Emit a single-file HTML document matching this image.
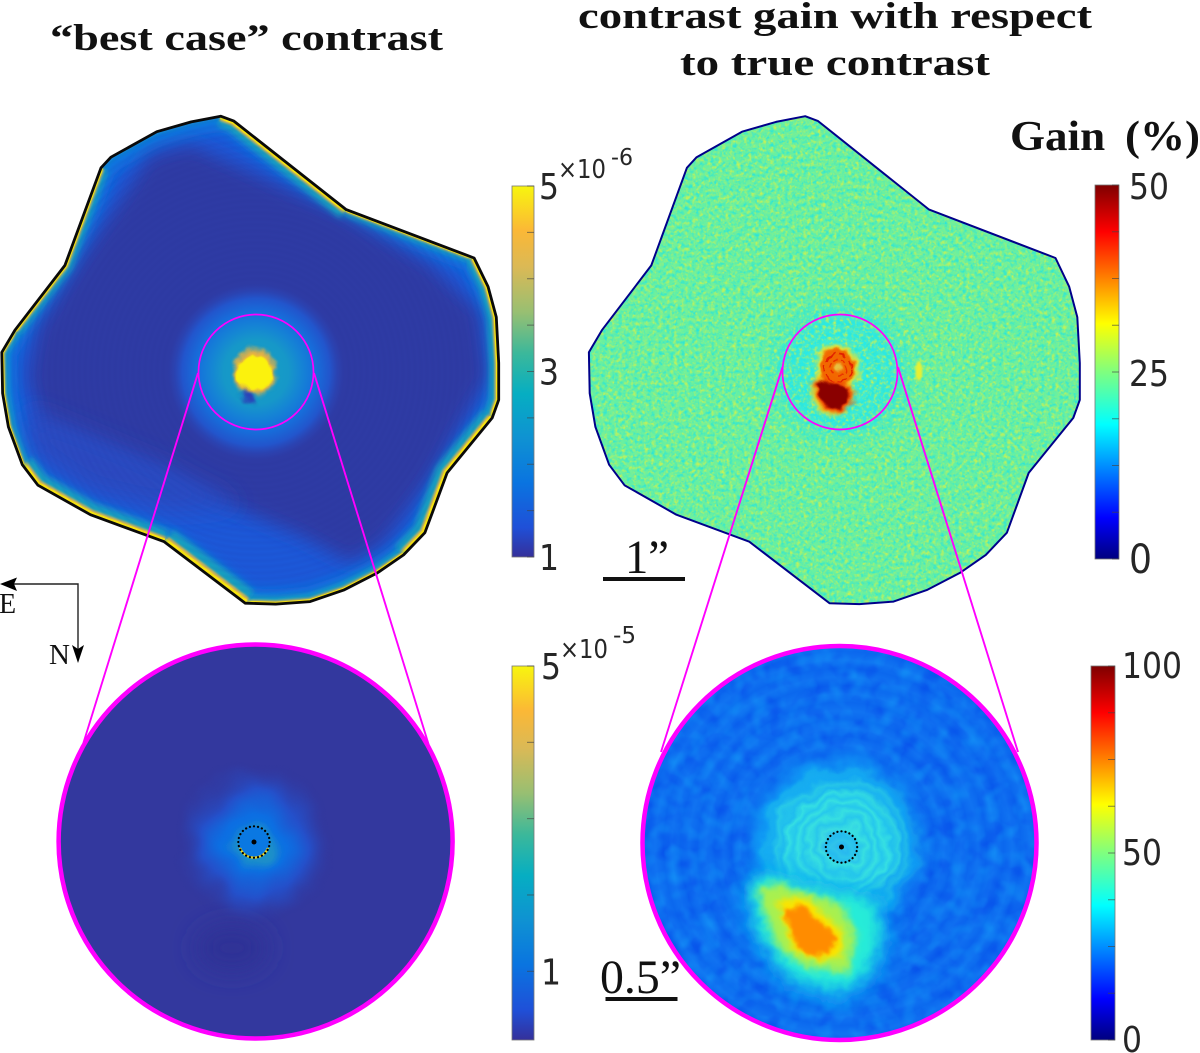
<!DOCTYPE html>
<html lang="en">
<head>
<meta charset="utf-8">
<title>Best case contrast and contrast gain maps</title>
<style>
html,body{margin:0;padding:0;background:#fff;}
svg{display:block;width:1200px;height:1053px;}
.title{font-family:"Liberation Serif",serif;font-weight:bold;fill:#111;}
.serif{font-family:"Liberation Serif",serif;fill:#111;}
.tick{font-family:"DejaVu Sans","Liberation Sans",sans-serif;fill:#262626;}
.exp{font-family:"DejaVu Sans","Liberation Sans",sans-serif;fill:#262626;}
</style>
</head>
<body>
<svg id="figure" xmlns="http://www.w3.org/2000/svg" viewBox="0 0 1200 1053" width="1200" height="1053">
<defs>
  <clipPath id="clip-left"><polygon class="field-left"/></clipPath>
  <clipPath id="clip-right"><polygon class="field-right"/></clipPath>
  <clipPath id="clip-bottom-right"><circle cx="839.5" cy="843" r="198"/></clipPath>
  <clipPath id="clip-bottom-left"><circle cx="255.6" cy="841.5" r="198"/></clipPath>
  <filter id="b1" x="-30%" y="-30%" width="160%" height="160%"><feGaussianBlur stdDeviation="1"/></filter>
  <filter id="b2" x="-30%" y="-30%" width="160%" height="160%"><feGaussianBlur stdDeviation="2"/></filter>
  <filter id="b3" x="-30%" y="-30%" width="160%" height="160%"><feGaussianBlur stdDeviation="3"/></filter>
  <filter id="b4" x="-30%" y="-30%" width="160%" height="160%"><feGaussianBlur stdDeviation="4"/></filter>
  <filter id="b6" x="-30%" y="-30%" width="160%" height="160%"><feGaussianBlur stdDeviation="6"/></filter>
  <filter id="b9" x="-60%" y="-60%" width="220%" height="220%"><feGaussianBlur stdDeviation="9"/></filter>
  <filter id="b12" x="-100%" y="-100%" width="300%" height="300%"><feGaussianBlur stdDeviation="12"/></filter>
  <filter id="rough-fine" x="-20%" y="-20%" width="140%" height="140%" color-interpolation-filters="sRGB">
    <feTurbulence type="fractalNoise" baseFrequency="0.09" numOctaves="2" seed="8" result="n"/>
    <feDisplacementMap in="SourceGraphic" in2="n" scale="9" xChannelSelector="R" yChannelSelector="G"/>
  </filter>
  <filter id="rough-soft" x="-20%" y="-20%" width="140%" height="140%" color-interpolation-filters="sRGB">
    <feTurbulence type="fractalNoise" baseFrequency="0.025" numOctaves="2" seed="6" result="n"/>
    <feDisplacementMap in="SourceGraphic" in2="n" scale="22" xChannelSelector="R" yChannelSelector="G"/>
  </filter>
  <filter id="rough-wide" x="-20%" y="-20%" width="140%" height="140%" color-interpolation-filters="sRGB">
    <feTurbulence type="fractalNoise" baseFrequency="0.04" numOctaves="3" seed="14" result="n"/>
    <feDisplacementMap in="SourceGraphic" in2="n" scale="20" xChannelSelector="R" yChannelSelector="G"/>
  </filter>
  <filter id="noise-yellow" x="0" y="0" width="100%" height="100%" color-interpolation-filters="sRGB">
    <feTurbulence type="fractalNoise" baseFrequency="0.27" numOctaves="2" seed="3"/>
    <feColorMatrix type="matrix" values="0 0 0 0 .78  0 0 0 0 .95  0 0 0 0 .32  2.6 0 0 0 -1.15"/>
  </filter>
  <filter id="noise-cyan" x="0" y="0" width="100%" height="100%" color-interpolation-filters="sRGB">
    <feTurbulence type="fractalNoise" baseFrequency="0.27" numOctaves="2" seed="11"/>
    <feColorMatrix type="matrix" values="0 0 0 0 .16  0 0 0 0 .90  0 0 0 0 .85  2.6 0 0 0 -1.15"/>
  </filter>
  <filter id="noise-deep" x="0" y="0" width="100%" height="100%" color-interpolation-filters="sRGB">
    <feTurbulence type="fractalNoise" baseFrequency="0.05" numOctaves="2" seed="5"/>
    <feColorMatrix type="matrix" values="0 0 0 0 .02  0 0 0 0 .30  0 0 0 0 .92  2 0 0 0 -0.85"/>
  </filter>
  <filter id="noise-light" x="0" y="0" width="100%" height="100%" color-interpolation-filters="sRGB">
    <feTurbulence type="fractalNoise" baseFrequency="0.06" numOctaves="2" seed="21"/>
    <feColorMatrix type="matrix" values="0 0 0 0 .06  0 0 0 0 .54  0 0 0 0 .96  2 0 0 0 -0.85"/>
  </filter>
  <radialGradient id="rings-left" gradientUnits="userSpaceOnUse" cx="256" cy="372" r="6" spreadMethod="repeat">
    <stop offset="0" stop-color="#20248a" stop-opacity="0"/><stop offset=".5" stop-color="#20248a" stop-opacity=".06"/><stop offset="1" stop-color="#20248a" stop-opacity="0"/>
  </radialGradient>
  <radialGradient id="rings-right" gradientUnits="userSpaceOnUse" cx="840" cy="372" r="11" spreadMethod="repeat">
    <stop offset="0" stop-color="#d8f050" stop-opacity=".14"/><stop offset=".5" stop-color="#30e8d0" stop-opacity=".08"/><stop offset="1" stop-color="#d8f050" stop-opacity=".14"/>
  </radialGradient>
  <radialGradient id="rings-bottom" gradientUnits="userSpaceOnUse" cx="842" cy="847" r="17" spreadMethod="repeat">
    <stop offset="0" stop-color="#40c0ff" stop-opacity=".08"/><stop offset=".5" stop-color="#0038d8" stop-opacity=".08"/><stop offset="1" stop-color="#40c0ff" stop-opacity=".08"/>
  </radialGradient>
  <radialGradient id="rings-near" gradientUnits="userSpaceOnUse" cx="842" cy="847" r="11" spreadMethod="repeat">
    <stop offset="0" stop-color="#58f0c0" stop-opacity=".22"/><stop offset=".5" stop-color="#0878f0" stop-opacity=".2"/><stop offset="1" stop-color="#58f0c0" stop-opacity=".22"/>
  </radialGradient>
  <radialGradient id="glow-left" gradientUnits="userSpaceOnUse" cx="256" cy="372" r="90">
    <stop offset="0" stop-color="#16a0c4"/><stop offset=".36" stop-color="#1698c8"/><stop offset=".5" stop-color="#1585d4"/><stop offset=".65" stop-color="#1570dc"/><stop offset=".82" stop-color="#2255cc"/><stop offset="1" stop-color="#2f3fae" stop-opacity="0"/>
  </radialGradient>
  <radialGradient id="glow-right" gradientUnits="userSpaceOnUse" cx="840" cy="372" r="92">
    <stop offset="0" stop-color="#22eef0"/><stop offset=".6" stop-color="#26e8ea" stop-opacity=".95"/><stop offset=".78" stop-color="#40ecc8" stop-opacity=".55"/><stop offset="1" stop-color="#64f0a0" stop-opacity="0"/>
  </radialGradient>
  <radialGradient id="glow-bl" gradientUnits="userSpaceOnUse" cx="254" cy="843" r="82">
    <stop offset="0" stop-color="#0a78e2"/><stop offset=".35" stop-color="#0c6ee2"/><stop offset=".62" stop-color="#2450ca"/><stop offset="1" stop-color="#32389e" stop-opacity="0"/>
  </radialGradient>
  <radialGradient id="glow-br" gradientUnits="userSpaceOnUse" cx="838" cy="845" r="100">
    <stop offset="0" stop-color="#40c4f0"/><stop offset=".24" stop-color="#30dcea"/><stop offset=".5" stop-color="#2cdcec"/><stop offset=".74" stop-color="#10a4f4"/><stop offset="1" stop-color="#0c6cf0" stop-opacity="0"/>
  </radialGradient>
  <radialGradient id="rings-near-fade" gradientUnits="userSpaceOnUse" cx="842" cy="847" r="85">
    <stop offset="0" stop-color="#fff"/><stop offset=".7" stop-color="#fff"/><stop offset="1" stop-color="#000"/>
  </radialGradient>
  <mask id="rings-near-mask"><circle cx="842" cy="847" r="85" fill="url(#rings-near-fade)"/></mask>
</defs>

<text class="title" x="50" y="50" font-size="37" textLength="393" lengthAdjust="spacingAndGlyphs">“best case” contrast</text>
<text class="title" x="578" y="28" font-size="37" textLength="514" lengthAdjust="spacingAndGlyphs">contrast gain with respect</text>
<text class="title" x="680" y="75" font-size="37" textLength="310" lengthAdjust="spacingAndGlyphs">to true contrast</text>
<text class="title" x="1010" y="150" font-size="42" textLength="190" lengthAdjust="spacingAndGlyphs" word-spacing="8">Gain (%)</text>

<!-- Upper-left contrast map -->
<g>
  <g clip-path="url(#clip-left)">
    <rect x="0" y="100" width="510" height="510" fill="#1c58d8"/>
    <polygon class="field-left" fill="none" stroke="#0c74e0" stroke-width="30" filter="url(#b6)"/>
    <polygon points="150,155 191,145 346,215 430,265 480,312 488,377 430,477 383,543 350,562 300,535 240,510 170,477 42,425 28,377 38,327 78,263" fill="#2f3aa4" filter="url(#b9)"/>
    <polygon points="30,410 170,470 240,505 170,510 90,490 30,450" fill="#2a48c0" filter="url(#b12)"/>
    <g id="left-edge-runs"></g>
    <circle cx="256" cy="372" r="330" fill="url(#rings-left)"/>
    <circle cx="256" cy="372" r="90" fill="url(#glow-left)"/>
    <g filter="url(#rough-fine)">
      <ellipse cx="255" cy="372" rx="21" ry="23" fill="#e4b045" filter="url(#b2)"/>
      <ellipse cx="255" cy="373" rx="18" ry="17" fill="#fbf20a" filter="url(#b1)"/>
      <ellipse cx="248" cy="397" rx="8" ry="5" transform="rotate(40 248 397)" fill="#2a40b8" filter="url(#b2)"/>
    </g>
  </g>
  <polygon class="field-left" fill="none" stroke="#0a0a0a" stroke-width="2.8" stroke-linejoin="round"/>
</g>

<!-- Upper-right gain map -->
<g>
  <g clip-path="url(#clip-right)">
    <rect x="580" y="100" width="510" height="510" fill="#66f0a2"/>
    <circle cx="840" cy="372" r="92" fill="url(#glow-right)"/>
    <rect x="580" y="100" width="510" height="510" filter="url(#noise-yellow)"/>
    <rect x="580" y="100" width="510" height="510" filter="url(#noise-cyan)"/>
    <circle cx="840" cy="372" r="330" fill="url(#rings-right)"/>
    <ellipse cx="919" cy="371" rx="3.5" ry="10" fill="#e8f030" filter="url(#b1)"/>
    <g filter="url(#rough-fine)">
      <ellipse cx="837" cy="368" rx="22" ry="23" fill="#e8e030" filter="url(#b2)"/>
      <ellipse cx="832" cy="393" rx="21" ry="22" fill="#f0e020" filter="url(#b2)"/>
      <ellipse cx="837" cy="368" rx="18" ry="19" fill="#f26800" filter="url(#b1)"/>
      <circle cx="838" cy="368" r="14" fill="none" stroke="#e02000" stroke-width="1.6" stroke-dasharray="9 4"/>
      <circle cx="838" cy="367" r="8" fill="none" stroke="#e83000" stroke-width="1.6" stroke-dasharray="5 3"/>
      <circle cx="838" cy="367" r="4" fill="#e8c040" filter="url(#b1)"/>
      <polygon points="814,380 832,381 851,386 853,403 845,411 832,412 823,409 815,397" fill="#f04000" filter="url(#b2)"/>
      <polygon points="817,381 832,383 847,388 849,402 843,407 832,408 825,405 818,395" fill="#8a0000" filter="url(#b1)"/>
    </g>
  </g>
  <polygon class="field-right" fill="none" stroke="#00008a" stroke-width="2" stroke-linejoin="round"/>
</g>

<!-- Lower-left zoom -->
<g>
  <circle cx="255.6" cy="841.5" r="198" fill="#33389e"/>
  <g clip-path="url(#clip-bottom-left)">
    <ellipse cx="232" cy="948" rx="36" ry="24" fill="#2f3296" filter="url(#b12)"/>
    <g filter="url(#rough-soft)">
      <circle cx="254" cy="843" r="82" fill="url(#glow-bl)"/>
      <circle cx="254" cy="847" r="21" fill="#1a90c8" filter="url(#b4)"/>
    </g>
  </g>
  <circle cx="254" cy="842" r="15" fill="#0a78e2"/>
  <path d="M240 848 A15 15 0 0 0 268 848" fill="none" stroke="#f0d820" stroke-width="2.2"/>
  <circle cx="254" cy="842" r="15.7" fill="none" stroke="#000" stroke-width="2.2" stroke-linecap="round" stroke-dasharray="0.1 4"/>
  <circle cx="254" cy="842" r="2.5" fill="#000"/>
  <circle cx="255.6" cy="841.5" r="197" fill="none" stroke="#ff00ff" stroke-width="4.5"/>
</g>

<!-- Lower-right zoom -->
<g>
  <circle cx="839.5" cy="843" r="198" fill="#0c6cf0"/>
  <g clip-path="url(#clip-bottom-right)">
    <rect x="640" y="644" width="400" height="400" filter="url(#noise-deep)"/>
    <rect x="640" y="644" width="400" height="400" filter="url(#noise-light)"/>
    <circle cx="842" cy="847" r="200" fill="url(#rings-bottom)"/>
    <g filter="url(#rough-wide)">
      <circle cx="838" cy="845" r="100" fill="url(#glow-br)"/>
      <circle cx="842" cy="847" r="85" fill="url(#rings-near)" mask="url(#rings-near-mask)"/>
    </g>
    <g filter="url(#rough-fine)">
      <polygon points="742,890 763,866 807,880 885,895 892,940 875,985 840,1005 785,990 750,935" fill="#10a4f2" filter="url(#b9)"/>
      <polygon points="750,887 763,873 807,887 873,900 880,937 867,973 840,990 790,977 760,933" fill="#28ecd8" filter="url(#b6)"/>
      <polygon points="757,890 773,883 840,903 857,937 847,973 807,967 777,947" fill="#a8f050" filter="url(#b4)"/>
      <polygon points="777,900 807,897 843,933 840,957 817,960 793,950" fill="#fae400" filter="url(#b3)"/>
      <polygon points="783,910 802,905 837,937 830,952 815,957 797,947" fill="#ff8c00" filter="url(#b2)"/>
    </g>
    <circle cx="841.5" cy="847" r="16" fill="#20b8f0" opacity=".55"/>
  </g>
  <circle cx="841.5" cy="847" r="15.7" fill="none" stroke="#000" stroke-width="2.2" stroke-linecap="round" stroke-dasharray="0.1 4"/>
  <circle cx="841.5" cy="847" r="2.5" fill="#000"/>
  <circle cx="839.5" cy="843" r="197" fill="none" stroke="#ff00ff" stroke-width="4.5"/>
</g>

<!-- Magnifier callouts -->
<g stroke="#ff00ff" fill="none">
  <circle cx="256" cy="372" r="57.5" stroke-width="1.7"/>
  <circle cx="840" cy="372" r="57.5" stroke-width="1.7"/>
  <line x1="198" y1="373" x2="83.4" y2="743" stroke-width="1.9"/>
  <line x1="314" y1="373" x2="429.4" y2="747" stroke-width="1.9"/>
  <line x1="782.5" y1="367" x2="661" y2="752" stroke-width="1.9"/>
  <line x1="898" y1="367" x2="1018" y2="752" stroke-width="1.9"/>
</g>

<!-- Compass -->
<g>
  <path d="M12 584 H78 V650" fill="none" stroke="#222" stroke-width="1.4"/>
  <polygon points="0,584 17,577.5 14,584 17,591" fill="#000"/>
  <polygon points="78,663 72,645 78,649 84,645" fill="#000"/>
  <text class="serif" x="-1" y="613" font-size="28">E</text>
  <text class="serif" x="49" y="664" font-size="29">N</text>
</g>

<!-- Scale bars -->
<g>
  <rect x="603" y="577" width="82" height="4" fill="#111"/>
  <text class="serif" x="625" y="573" font-size="48" textLength="44" lengthAdjust="spacingAndGlyphs">1”</text>
</g>
<g>
  <rect x="605.5" y="997" width="72" height="4" fill="#111"/>
  <text class="serif" x="600" y="993" font-size="48" textLength="81" lengthAdjust="spacingAndGlyphs">0.5”</text>
</g>

<!-- Colourbar multipliers -->
<text class="exp" x="558" y="178" font-size="26" textLength="48" lengthAdjust="spacingAndGlyphs">×10</text>
<text class="exp" x="611" y="165" font-size="23" textLength="22" lengthAdjust="spacingAndGlyphs">-6</text>
<text class="exp" x="560" y="658" font-size="26" textLength="48" lengthAdjust="spacingAndGlyphs">×10</text>
<text class="exp" x="613" y="643" font-size="23" textLength="23" lengthAdjust="spacingAndGlyphs">-5</text>

<g id="colorbars"></g>
</svg>

<script>
// Field-of-view boundary, offsets from the star in arcseconds
const fieldEast = [-0.43,-0.27,1.10,2.66,2.83,2.93,2.96,2.96,2.88,2.33,2.06,1.80,1.48,1.07,0.66,0.24,-0.13,-1.12,-2.02,-2.66,-2.85,-3.02,-3.09,-3.10,-2.94,-2.33,-1.89,-1.77,-1.21,-0.79];
const fieldNorth = [-3.12,-3.06,-1.98,-1.39,-1.04,-0.67,-0.11,0.34,0.56,1.23,1.96,2.23,2.45,2.66,2.80,2.83,2.82,2.07,1.74,1.38,1.13,0.67,0.26,-0.24,-0.51,-1.30,-2.49,-2.62,-2.93,-3.05];

// Saturated rim of the contrast map: first and last boundary vertex of each run, and its strength
const rimRunStart = [0,2,3,8,11,16,17,20,24,26];
const rimRunEnd = [2,3,8,11,16,17,20,24,26,30];
const rimRunStrength = [3,1.5,2.5,3.5,2,4.5,3.5,1.5,2,0];

// Colormaps
const parulaOffsets = [0,0.08,0.2,0.32,0.44,0.55,0.66,0.78,0.88,1];
const parulaColors = ['#35309a','#1f50d8','#0a74e0','#0f92d2','#06aec2','#3cb89a','#98bf72','#dab956','#fbb836','#f8f50e'];
const jetOffsets = [0,0.11,0.36,0.5,0.63,0.875,1];
const jetColors = ['#00007f','#0000ff','#00ffff','#7fff7f','#ffff00','#ff0000','#7f0000'];

// Colourbar ticks and labels
const contrastTopTicks = [1,1.5,2,2.5,3,3.5,4,4.5,5];
const contrastTopValues = [1,3,5];
const contrastTopLabels = ['1','3','5'];
const contrastLowTicks = [1,2,3,4,5];
const contrastLowValues = [1,5];
const contrastLowLabels = ['1','5'];
const gainTopTicks = [0,6.25,12.5,18.75,25,31.25,37.5,43.75,50];
const gainTopValues = [0,25,50];
const gainTopLabels = ['0','25','50'];
const gainLowTicks = [0,12.5,25,37.5,50,62.5,75,87.5,100];
const gainLowValues = [0,50,100];
const gainLowLabels = ['0','50','100'];

const NS = 'http://www.w3.org/2000/svg';

function fieldX(cx, pxX, i) {
  return cx + fieldEast[i % fieldEast.length] * pxX;
}
function fieldY(cy, pxY, i) {
  return cy + fieldNorth[i % fieldNorth.length] * pxY;
}
function fieldPoints(cx, cy, pxX, pxY) {
  return fieldEast.map(function (e, i) {
    return fieldX(cx, pxX, i).toFixed(1) + ',' + fieldY(cy, pxY, i).toFixed(1);
  }).join(' ');
}
document.querySelectorAll('.field-left').forEach(function (p) {
  p.setAttribute('points', fieldPoints(256, 372, 82, 82));
});
document.querySelectorAll('.field-right').forEach(function (p) {
  p.setAttribute('points', fieldPoints(840, 372, 81, 82));
});

function drawRimRun(start, end, strength) {
  const root = document.getElementById('left-edge-runs');
  const pts = [];
  for (let i = start; i <= end; i++) {
    pts.push(fieldX(256, 82, i).toFixed(1) + ',' + fieldY(372, 82, i).toFixed(1));
  }
  const teal = document.createElementNS(NS, 'polyline');
  
  
  teal.setAttribute('points', pts.join(' '));
  teal.setAttribute('fill', 'none');
  teal.setAttribute('stroke', '#18a0c0');
  teal.setAttribute('stroke-width', strength * 6 + 3);
  teal.setAttribute('filter', 'url(#b3)');
  root.appendChild(teal);
  if (strength < 1) {
    return;
  }
  const orange = document.createElementNS(NS, 'polyline');
  
  
  orange.setAttribute('points', pts.join(' '));
  orange.setAttribute('fill', 'none');
  orange.setAttribute('stroke', '#e4b848');
  orange.setAttribute('stroke-width', strength * 2.4 + 2);
  orange.setAttribute('filter', 'url(#b1)');
  root.appendChild(orange);
  const yellow = document.createElementNS(NS, 'polyline');
  
  
  yellow.setAttribute('points', pts.join(' '));
  yellow.setAttribute('fill', 'none');
  yellow.setAttribute('stroke', '#fbe80c');
  yellow.setAttribute('stroke-width', strength * 1.2 + 2.4);
  root.appendChild(yellow);
}
rimRunStart.forEach(function (s, i) {
  drawRimRun(s, rimRunEnd[i], rimRunStrength[i]);
});

function drawColorbar(cfg) {
  const root = document.getElementById('colorbars');
  const defs = document.querySelector('defs');
  const grad = document.createElementNS(NS, 'linearGradient');
  grad.setAttribute('id', cfg.id);
  grad.setAttribute('x1', '0');
  grad.setAttribute('y1', '1');
  grad.setAttribute('x2', '0');
  grad.setAttribute('y2', '0');
  cfg.offsets.forEach(function (o, i) {
    const s = document.createElementNS(NS, 'stop');
    s.setAttribute('offset', o);
    s.setAttribute('stop-color', cfg.colors[i]);
    grad.appendChild(s);
  });
  defs.appendChild(grad);

  const yScale = function (v) {
    return cfg.bottom - (v - cfg.min) / (cfg.max - cfg.min) * (cfg.bottom - cfg.top);
  };

  const bar = document.createElementNS(NS, 'rect');
  
  
  bar.setAttribute('x', cfg.x);
  bar.setAttribute('y', cfg.top);
  bar.setAttribute('width', cfg.width);
  bar.setAttribute('height', cfg.bottom - cfg.top);
  bar.setAttribute('fill', 'url(#' + cfg.id + ')');
  bar.setAttribute('stroke', '#777');
  bar.setAttribute('stroke-width', '0.8');
  root.appendChild(bar);

  cfg.ticks.forEach(function (v) {
    const tick = document.createElementNS(NS, 'line');
    
    
    tick.setAttribute('x1', cfg.x + cfg.width - 7);
    tick.setAttribute('x2', cfg.x + cfg.width);
    tick.setAttribute('y1', yScale(v));
    tick.setAttribute('y2', yScale(v));
    tick.setAttribute('stroke', '#444');
    tick.setAttribute('stroke-opacity', '0.65');
    tick.setAttribute('stroke-width', '1');
    root.appendChild(tick);
  });

  cfg.values.forEach(function (v, i) {
    const label = document.createElementNS(NS, 'text');
    
    
    label.setAttribute('class', 'tick');
    const str = cfg.labels[i];
    const large = (v === 0 && cfg.id === 'cb-gain-top');
    label.setAttribute('font-size', large ? 40 : 36);
    label.setAttribute('x', cfg.labelLeft);
    label.setAttribute('y', yScale(v) + cfg.baseline);
    label.setAttribute('textLength', str.length * (large ? 23 : 20));
    label.setAttribute('lengthAdjust', 'spacingAndGlyphs');
    label.textContent = str;
    root.appendChild(label);
  });
}

drawColorbar({id:'cb-contrast-top', x:512, width:22, top:186, bottom:557, min:1, max:5, ticks:contrastTopTicks, values:contrastTopValues, labels:contrastTopLabels, offsets:parulaOffsets, colors:parulaColors, labelLeft:539, baseline:13});
drawColorbar({id:'cb-contrast-low', x:512, width:22, top:666, bottom:1040, min:0.1, max:5, ticks:contrastLowTicks, values:contrastLowValues, labels:contrastLowLabels, offsets:parulaOffsets, colors:parulaColors, labelLeft:541, baseline:13});
drawColorbar({id:'cb-gain-top', x:1095, width:24, top:185, bottom:559, min:0, max:50, ticks:gainTopTicks, values:gainTopValues, labels:gainTopLabels, offsets:jetOffsets, colors:jetColors, labelLeft:1129, baseline:14});
drawColorbar({id:'cb-gain-low', x:1091, width:24, top:666, bottom:1040, min:0, max:100, ticks:gainLowTicks, values:gainLowValues, labels:gainLowLabels, offsets:jetOffsets, colors:jetColors, labelLeft:1122, baseline:12});
</script>
</body>
</html>
